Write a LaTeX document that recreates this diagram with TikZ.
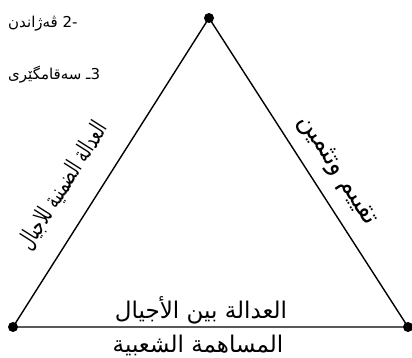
\documentclass[tikz,border=0pt]{standalone}
\usepackage{fontspec}
\usepackage{tikz}
\usetikzlibrary{positioning}
\TeXXeTstate=1
\newfontfamily\arabicfont[Script=Arabic]{DejaVu Sans}

\begin{document}
\begin{tikzpicture}[%Triangle of fairness
  x=1pt, y=-1pt,
  cornernode/.style={fill=black, circle, inner sep=0pt, minimum size=10pt},
  sidelabel/.style={font=\arabicfont\fontsize{23}{26}\selectfont, inner sep=0pt},
  listlabel/.style={font=\arabicfont\fontsize{15}{17}\selectfont, inner sep=0pt, anchor=west}
]
\useasboundingbox (0,0) rectangle (412,358);

%Corners
\node[cornernode] (top)   at (209,18)  {};
\node[cornernode] (left)  at (13,327)  {};
\node[cornernode] (right) at (408,327) {};

%Sides
\draw[line width=1.4pt] (left.center) -- (top.center) -- (right.center) -- (left.center);

%Labels of the sides
\node[sidelabel, font=\arabicfont\fontsize{24}{28}\selectfont, rotate=57.6, xscale=0.65]
  (implicit) at (63,186) {\beginR العدالة الضمنية للاجيال\endR};
\node[sidelabel, font=\arabicfont\fontsize{26}{30}\selectfont, rotate=-57.2, xscale=0.96]
  (assess) at (337,171) {\beginR تقييم وتثمين\endR};
\node[sidelabel] (between) at (201,310) {\beginR العدالة بين الأجيال\endR};
\node[sidelabel] (share)   at (198,345) {\beginR المساهمة الشعبية\endR};

%List
\node[listlabel] (grow) at (8,24) {\beginR\beginL-2\endL\ ڤەژاندن\endR};
\node[listlabel, below=51pt of grow.west, anchor=west] (stable) {\beginR\beginL ـ\kern0pt3\endL\ سەقامگێری\endR};
\end{tikzpicture}
\end{document}
